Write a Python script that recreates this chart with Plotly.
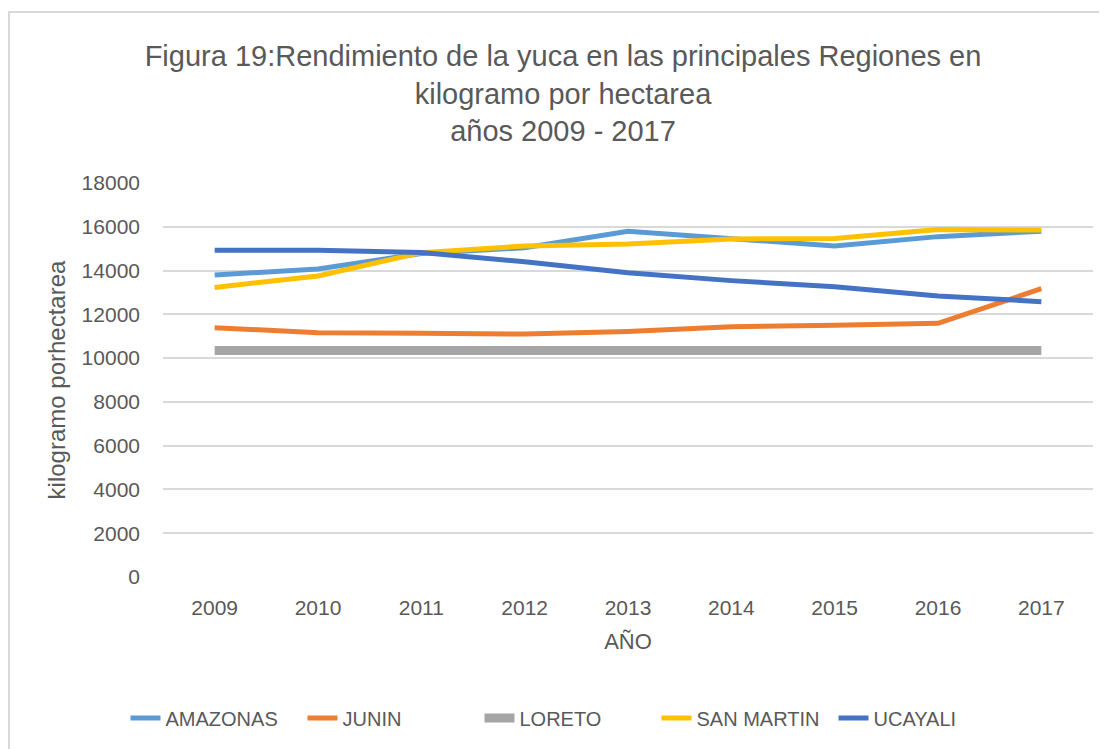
import plotly.graph_objects as go

years = ["2009", "2010", "2011", "2012", "2013", "2014", "2015", "2016", "2017"]
amazonas = [13800, 14070, 14780, 15040, 15800, 15440, 15120, 15550, 15800]
junin = [11390, 11160, 11140, 11100, 11220, 11430, 11500, 11590, 13170]
loreto = [10350, 10350, 10350, 10350, 10350, 10350, 10350, 10350, 10350]
san_martin = [13230, 13750, 14820, 15120, 15210, 15440, 15470, 15880, 15850]
ucayali = [14930, 14930, 14820, 14400, 13900, 13540, 13260, 12840, 12580]

series = [
    ("AMAZONAS", amazonas, "#5B9BD5", 5),
    ("JUNIN", junin, "#ED7D31", 5),
    ("LORETO", loreto, "#A5A5A5", 9),
    ("SAN MARTIN", san_martin, "#FFC000", 5),
    ("UCAYALI", ucayali, "#4472C4", 5),
]

OFF = 8  # default page body margin
W, H = 1107 - OFF, 749 - OFF
L, R, T, B = 163 - OFF, 1093 - OFF, 183 - OFF, 577 - OFF

fig = go.Figure()
for name, vals, color, width in series:
    fig.add_trace(go.Scatter(x=years, y=vals, name=name, mode="lines",
                             line=dict(color=color, width=width)))

def px_x(px):
    return (px - OFF - L) / (R - L)

def px_y(py):
    return (B - (py - OFF)) / (B - T)

font_family = "Liberation Sans, Arial, sans-serif"
txt = "#595959"

fig.update_layout(
    width=W, height=H,
    margin=dict(l=L, r=W - R, t=T, b=H - B, pad=0),
    paper_bgcolor="white", plot_bgcolor="white",
    font=dict(family=font_family, color=txt, size=21),
    title=dict(
        text="Figura 19:Rendimiento de la yuca en las principales Regiones en<br>kilogramo por hectarea<br>años 2009 - 2017",
        x=(563 - OFF) / W, xref="container", xanchor="center",
        y=1 - 58 / H, yanchor="middle",
        font=dict(size=29, color=txt, family=font_family),
    ),
    xaxis=dict(
        type="category", range=[-0.5, 8.5], showgrid=False, zeroline=False, showline=False,
        ticks="", tickfont=dict(size=21, color=txt), ticklabelstandoff=16,
        title=dict(text="AÑO", font=dict(size=22, color=txt), standoff=15),
    ),
    yaxis=dict(
        range=[0, 18000], dtick=2000, tickformat="d", showgrid=True, gridcolor="#D9D9D9",
        gridwidth=1.5, zeroline=False, showline=False, ticks="",
        tickfont=dict(size=21, color=txt), ticklabelstandoff=22,
        title=dict(text="kilogramo porhectarea", font=dict(size=24, color=txt), standoff=9),
    ),
    legend=dict(
        orientation="h", xref="container", x=(568 - OFF) / W, xanchor="center",
        yref="container", y=(749 - 718) / H, yanchor="middle",
        font=dict(size=20, color=txt), entrywidth=132,
        bgcolor="rgba(0,0,0,0)",
    ),
    showlegend=True,
    shapes=[dict(type="rect", xref="paper", yref="paper",
                 x0=px_x(9), x1=px_x(1125), y0=px_y(12), y1=px_y(770),
                 line=dict(color="#D9D9D9", width=2), fillcolor="rgba(0,0,0,0)",
                 layer="below")],
)

fig.write_html("out.html")
